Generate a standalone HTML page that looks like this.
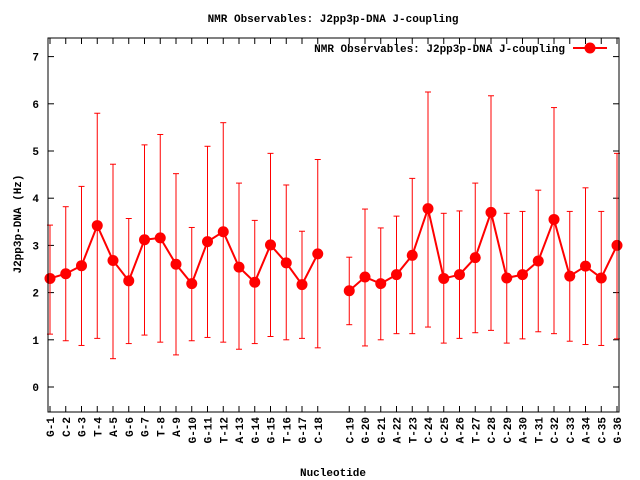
<!DOCTYPE html>
<html><head><meta charset="utf-8"><style>body{margin:0;background:#fff}svg{display:block}text{font-family:"Liberation Mono",monospace;font-weight:bold;font-size:11px;fill:#000}</style></head><body>
<svg id="s" width="640" height="480" xmlns="http://www.w3.org/2000/svg">
<rect x="0" y="0" width="640" height="480" fill="#fff"/>
<text x="333" y="22" text-anchor="middle">NMR Observables: J2pp3p-DNA J-coupling</text>
<text x="333" y="476" text-anchor="middle">Nucleotide</text>
<text transform="translate(21,224) rotate(-90)" text-anchor="middle">J2pp3p-DNA (Hz)</text>
<text x="565" y="52" text-anchor="end">NMR Observables: J2pp3p-DNA J-coupling</text>
<line x1="573" y1="48" x2="607" y2="48" stroke="#f00" stroke-width="2"/>
<circle cx="590" cy="48" r="5.5" fill="#f00"/>
<g id="g"></g>
<rect x="48" y="38" width="571" height="374" fill="none" stroke="#000" stroke-width="1"/>
</svg>
<script>
var d=[["G-1",2.3,1.12,3.43],["C-2",2.4,0.98,3.82],["G-3",2.57,0.88,4.25],["T-4",3.42,1.03,5.8],["A-5",2.68,0.6,4.72],["G-6",2.25,0.92,3.57],["G-7",3.12,1.1,5.13],["T-8",3.16,0.95,5.35],["A-9",2.6,0.68,4.52],["G-10",2.19,0.98,3.38],["G-11",3.08,1.05,5.1],["T-12",3.29,0.95,5.6],["A-13",2.54,0.8,4.32],["G-14",2.22,0.92,3.53],["G-15",3.01,1.07,4.95],["T-16",2.63,1.0,4.28],["G-17",2.17,1.03,3.3],["C-18",2.82,0.83,4.82],null,["C-19",2.04,1.32,2.75],["G-20",2.33,0.87,3.77],["G-21",2.19,1.0,3.37],["A-22",2.38,1.13,3.62],["T-23",2.79,1.13,4.42],["C-24",3.78,1.27,6.25],["C-25",2.3,0.93,3.68],["A-26",2.38,1.03,3.73],["T-27",2.74,1.15,4.32],["C-28",3.7,1.2,6.17],["C-29",2.31,0.93,3.68],["A-30",2.38,1.02,3.72],["T-31",2.67,1.17,4.17],["C-32",3.55,1.13,5.92],["C-33",2.35,0.97,3.72],["A-34",2.56,0.9,4.22],["C-35",2.31,0.88,3.72],["G-36",3.0,1.02,4.95]];
var X=i=>50+i*15.75,Y=v=>387-47.2*v,h='';
for(var v=0;v<=7;v++){var y=Y(v);h+=`<line x1="48" y1="${y}" x2="54" y2="${y}" stroke="#000"/><line x1="613" y1="${y}" x2="619" y2="${y}" stroke="#000"/><text x="39" y="${y+4}" text-anchor="end">${v}</text>`;}
var p1=[],p2=[];
d.forEach((e,i)=>{var x=X(i);if(!e)return;
h+=`<line x1="${x}" y1="412" x2="${x}" y2="406" stroke="#000"/><line x1="${x}" y1="38" x2="${x}" y2="44" stroke="#000"/><text transform="translate(${x+4},417) rotate(-90)" text-anchor="end">${e[0]}</text>`;
h+=`<line x1="${x}" y1="${Y(e[2])}" x2="${x}" y2="${Y(e[3])}" stroke="#f00"/><line x1="${x-3}" y1="${Y(e[2])}" x2="${x+3}" y2="${Y(e[2])}" stroke="#f00"/><line x1="${x-3}" y1="${Y(e[3])}" x2="${x+3}" y2="${Y(e[3])}" stroke="#f00"/>`;
(i<18?p1:p2).push(x+','+Y(e[1]));});
h+=`<polyline points="${p1.join(' ')}" fill="none" stroke="#f00" stroke-width="2"/><polyline points="${p2.join(' ')}" fill="none" stroke="#f00" stroke-width="2"/>`;
d.forEach((e,i)=>{if(e)h+=`<circle cx="${X(i)}" cy="${Y(e[1])}" r="5.5" fill="#f00"/>`;});
document.getElementById('g').innerHTML=h;
</script>
</body></html>
